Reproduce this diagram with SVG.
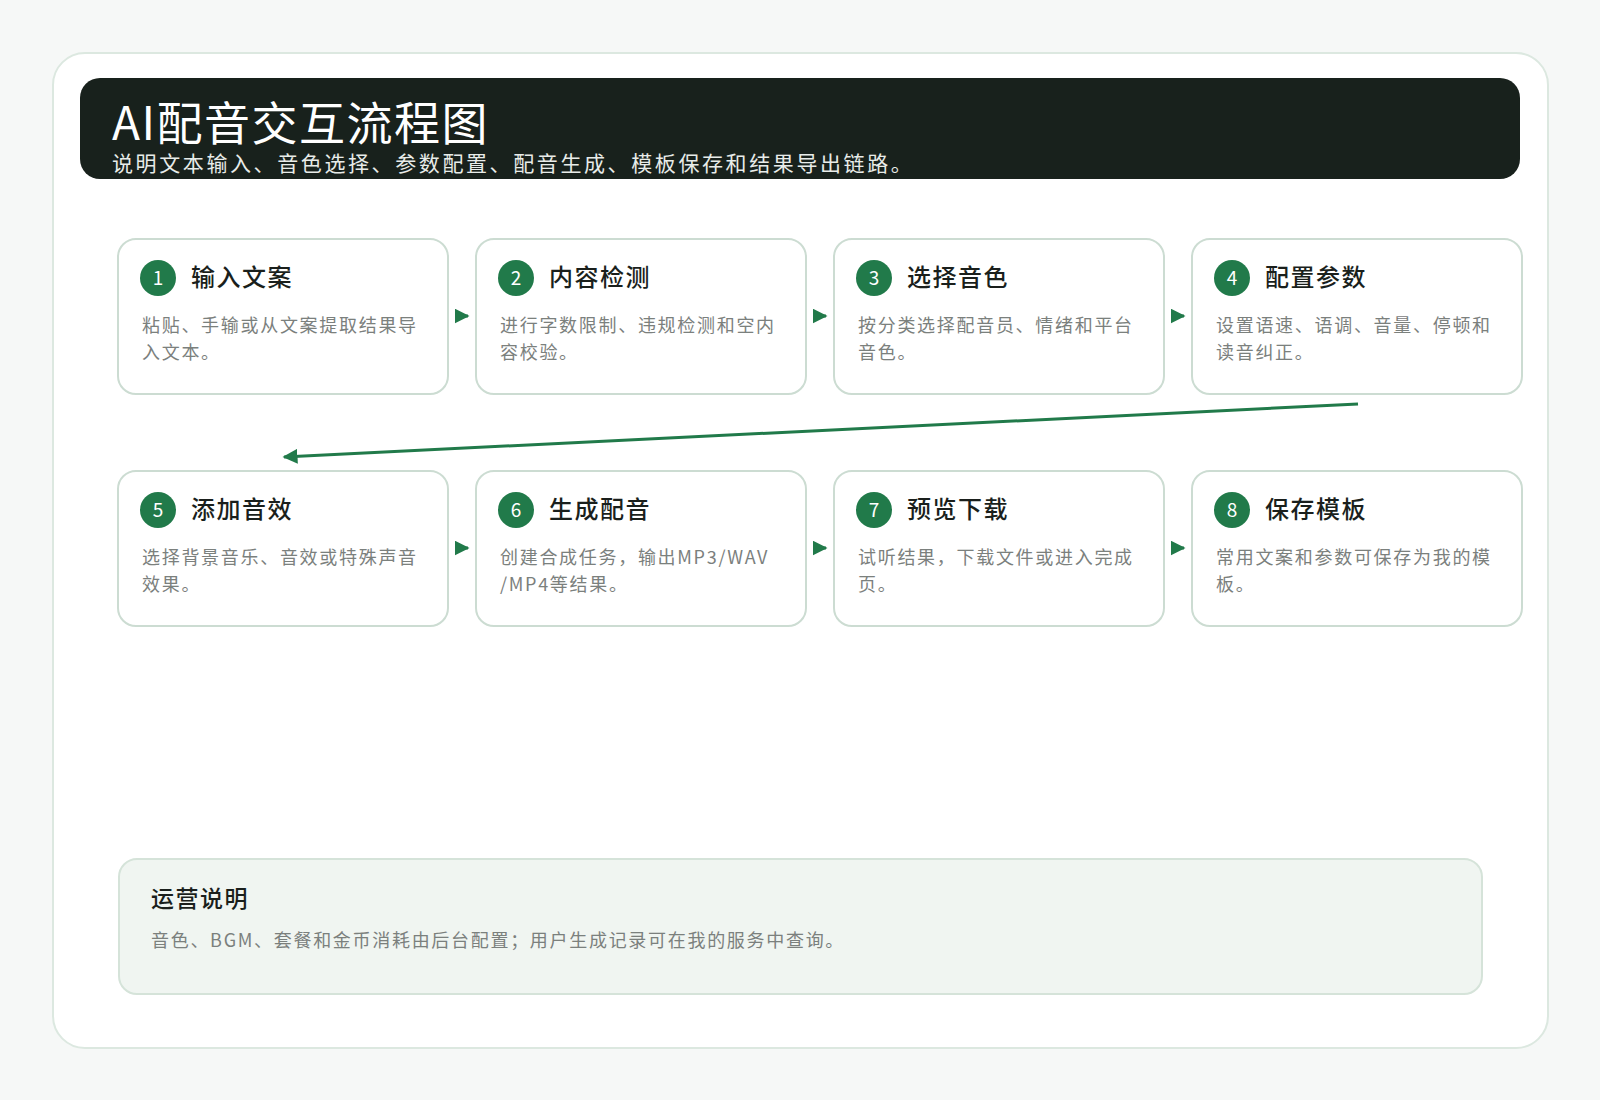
<svg xmlns="http://www.w3.org/2000/svg" width="1600" height="1100" viewBox="0 0 1600 1100">
<defs>
<marker id="ah" viewBox="0 0 10 10" refX="9" refY="5" markerWidth="5" markerHeight="5" orient="auto" markerUnits="strokeWidth"><path d="M0,0L10,5L0,10z" fill="#217a4a"/></marker>
<style>
text{font-family:"Noto Sans CJK SC","Liberation Sans",sans-serif}
.card{fill:#fff;stroke:#ccdcd2;stroke-width:2}
.num{fill:#217a4a}
.nt{fill:#fff;font-size:19px;text-anchor:middle}
.t{fill:#1a1f1c;font-size:24px;font-weight:500;letter-spacing:1.5px}
.d{fill:#7b807d;font-size:18px;letter-spacing:1.7px}
.c{stroke:#217a4a;stroke-width:3;fill:none}
</style>
</defs>
<rect width="1600" height="1100" fill="#f6f8f7"/>
<rect x="53" y="53" width="1495" height="995" rx="32" fill="#fff" stroke="#dce8e0" stroke-width="2"/>
<g id="header">
<rect x="80" y="78" width="1440" height="101" rx="20" fill="#18211c"/>
<text x="112" y="140" fill="#fff" font-size="46" letter-spacing="1.5">AI配音交互流程图</text>
<text x="112" y="171" fill="#e8ece9" font-size="21" letter-spacing="2.6">说明文本输入、音色选择、参数配置、配音生成、模板保存和结果导出链路。</text>
</g>
<g id="connectors">
<path class="c" d="M456 316H468" marker-end="url(#ah)"/>
<path class="c" d="M814 316H826" marker-end="url(#ah)"/>
<path class="c" d="M1172 316H1184" marker-end="url(#ah)"/>
<path class="c" d="M1358 404L284 457" marker-end="url(#ah)"/>
<path class="c" d="M456 548H468" marker-end="url(#ah)"/>
<path class="c" d="M814 548H826" marker-end="url(#ah)"/>
<path class="c" d="M1172 548H1184" marker-end="url(#ah)"/>
</g>
<g id="n1"><rect class="card" x="118" y="239" width="330" height="155" rx="18"/><circle class="num" cx="158" cy="278" r="18"/><text class="nt" x="158" y="285">1</text><text class="t" x="191" y="286">输入文案</text><text class="d" x="142" y="332">粘贴、手输或从文案提取结果导</text><text class="d" x="142" y="359">入文本。</text></g>
<g id="n2"><rect class="card" x="476" y="239" width="330" height="155" rx="18"/><circle class="num" cx="516" cy="278" r="18"/><text class="nt" x="516" y="285">2</text><text class="t" x="549" y="286">内容检测</text><text class="d" x="500" y="332">进行字数限制、违规检测和空内</text><text class="d" x="500" y="359">容校验。</text></g>
<g id="n3"><rect class="card" x="834" y="239" width="330" height="155" rx="18"/><circle class="num" cx="874" cy="278" r="18"/><text class="nt" x="874" y="285">3</text><text class="t" x="907" y="286">选择音色</text><text class="d" x="858" y="332">按分类选择配音员、情绪和平台</text><text class="d" x="858" y="359">音色。</text></g>
<g id="n4"><rect class="card" x="1192" y="239" width="330" height="155" rx="18"/><circle class="num" cx="1232" cy="278" r="18"/><text class="nt" x="1232" y="285">4</text><text class="t" x="1265" y="286">配置参数</text><text class="d" x="1216" y="332">设置语速、语调、音量、停顿和</text><text class="d" x="1216" y="359">读音纠正。</text></g>
<g id="n5"><rect class="card" x="118" y="471" width="330" height="155" rx="18"/><circle class="num" cx="158" cy="510" r="18"/><text class="nt" x="158" y="517">5</text><text class="t" x="191" y="518">添加音效</text><text class="d" x="142" y="564">选择背景音乐、音效或特殊声音</text><text class="d" x="142" y="591">效果。</text></g>
<g id="n6"><rect class="card" x="476" y="471" width="330" height="155" rx="18"/><circle class="num" cx="516" cy="510" r="18"/><text class="nt" x="516" y="517">6</text><text class="t" x="549" y="518">生成配音</text><text class="d" x="500" y="564">创建合成任务，输出MP3/WAV</text><text class="d" x="500" y="591">/MP4等结果。</text></g>
<g id="n7"><rect class="card" x="834" y="471" width="330" height="155" rx="18"/><circle class="num" cx="874" cy="510" r="18"/><text class="nt" x="874" y="517">7</text><text class="t" x="907" y="518">预览下载</text><text class="d" x="858" y="564">试听结果，下载文件或进入完成</text><text class="d" x="858" y="591">页。</text></g>
<g id="n8"><rect class="card" x="1192" y="471" width="330" height="155" rx="18"/><circle class="num" cx="1232" cy="510" r="18"/><text class="nt" x="1232" y="517">8</text><text class="t" x="1265" y="518">保存模板</text><text class="d" x="1216" y="564">常用文案和参数可保存为我的模</text><text class="d" x="1216" y="591">板。</text></g>
<g id="note">
<rect x="119" y="859" width="1363" height="135" rx="18" fill="#f0f5f1" stroke="#d5e3d9" stroke-width="2"/>
<text x="151" y="907" fill="#1a1f1c" font-size="23" font-weight="500" letter-spacing="1.5">运营说明</text>
<text x="151" y="947" fill="#7b807d" font-size="18" letter-spacing="1.7">音色、BGM、套餐和金币消耗由后台配置；用户生成记录可在我的服务中查询。</text>
</g>
</svg>
